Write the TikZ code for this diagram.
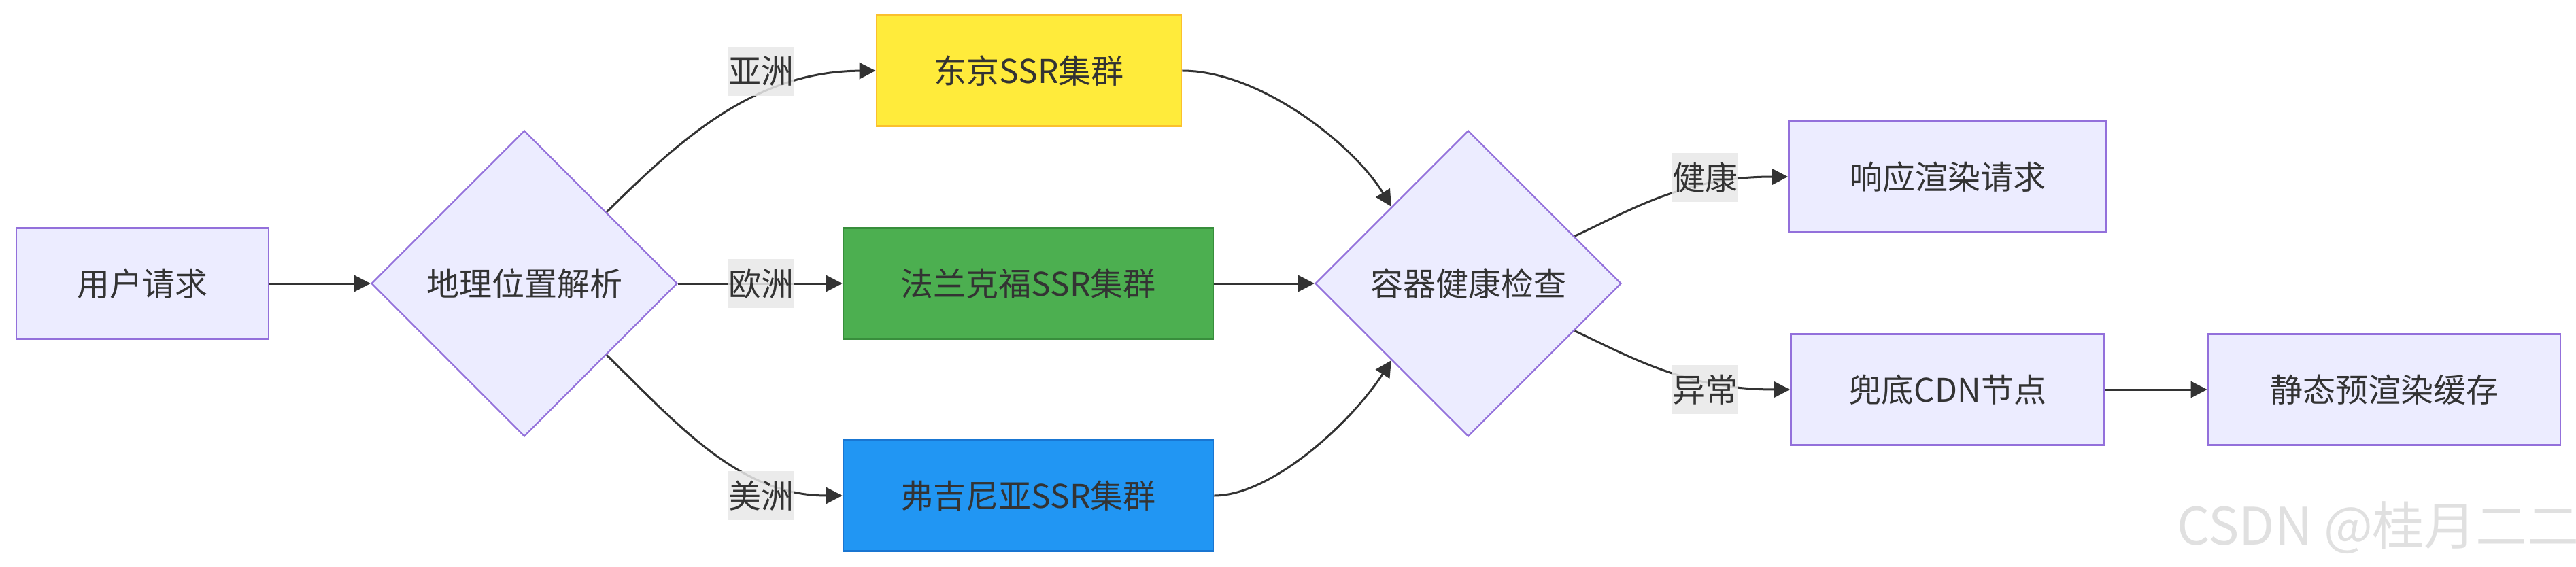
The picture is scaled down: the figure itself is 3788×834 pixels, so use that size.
\documentclass[tikz,border=0pt]{standalone}
\usepackage{fontspec}
\newfontfamily\cjk{Noto Sans CJK SC}
\usetikzlibrary{shapes.geometric,arrows.meta}
\definecolor{nodefill}{HTML}{ECECFF}
\definecolor{nodeline}{HTML}{9370DB}
\definecolor{txt}{HTML}{333333}
\definecolor{lblbg}{HTML}{E8E8E8}
\definecolor{yfill}{HTML}{FFEB3B}
\definecolor{yline}{HTML}{FBC02D}
\definecolor{gfill}{HTML}{4CAF50}
\definecolor{gline}{HTML}{388E3C}
\definecolor{bfill}{HTML}{2196F3}
\definecolor{bline}{HTML}{1976D2}
\definecolor{wmark}{HTML}{E0E0E0}
\begin{document}
\begin{tikzpicture}[x=0.25pt,y=-0.25pt,
  base/.style={font=\cjk\fontsize{12pt}{18pt}\selectfont, text=txt, inner sep=0pt, line width=0.7pt},
  box/.style={base, rectangle, draw=nodeline, fill=nodefill, minimum height=40.75pt},
  dia/.style={base, diamond, draw=nodeline, fill=nodefill, minimum width=112.5pt, minimum height=112.5pt, aspect=1, line width=0.6pt},
  lbl/.style={base, fill=lblbg, fill opacity=0.85, text opacity=1, minimum width=24pt, minimum height=18pt},
  edge/.style={draw=txt, line width=0.75pt, -{Triangle[length=6pt,width=6pt]}},
  wmstyle/.style={font=\cjk\fontsize{19pt}{19pt}\selectfont, text=wmark, inner sep=0pt},
]
\fill[white] (0,0) rectangle (3788,834);
\useasboundingbox (0,0) rectangle (3788,834);

% nodes
\node[box, minimum width=92.75pt] (u) at (209.5,417) {用户请求};
\node[dia] (geo) at (771,417) {地理位置解析};
\node[box, fill=yfill, draw=yline, minimum width=112pt] (tokyo) at (1513,104) {东京SSR集群};
\node[box, fill=gfill, draw=gline, minimum width=136pt] (frank) at (1512,417) {法兰克福SSR集群};
\node[box, fill=bfill, draw=bline, minimum width=136pt] (virg) at (1512,729) {弗吉尼亚SSR集群};
\node[dia] (chk) at (2159,417) {容器健康检查};
\node[box, minimum width=116.75pt] (resp) at (2864,260) {响应渲染请求};
\node[box, minimum width=115.25pt] (cdn) at (2864,573) {兜底CDN节点};
\node[box, minimum width=129.5pt] (cache) at (3506,573) {静态预渲染缓存};

% edges
\draw[edge] (u.east) -- (geo.west);
\draw[edge] (geo.41) .. controls +(108,-106) and +(-179,1) .. (tokyo.west);
\draw[edge] (geo.east) -- (frank.west);
\draw[edge] (geo.-41) .. controls +(108,106) and +(-150,0) .. (virg.west);
\draw[edge] (tokyo.east) .. controls +(113,0) and +(-57,-93) .. (chk.135);
\draw[edge] (frank.east) -- (chk.west);
\draw[edge] (virg.east) .. controls +(86,0) and +(-57,89) .. (chk.225);
\draw[edge] (chk.24) .. controls +(85,-40) and +(-150,0) .. (resp.west);
\draw[edge] (chk.-24) .. controls +(85,40) and +(-150,0) .. (cdn.west);
\draw[edge] (cdn.east) -- (cache.west);

% edge labels
\node[lbl] (la) at (1119,105) {亚洲};
\node[lbl] (le) at (1119,417) {欧洲};
\node[lbl] (lm) at (1119,729) {美洲};
\node[lbl] (lh) at (2507,261) {健康};
\node[lbl] (lx) at (2507,573) {异常};

% watermark
\node[wmstyle] (wm) at (3497,776) {CSDN @桂月二二};
\end{tikzpicture}
\end{document}
